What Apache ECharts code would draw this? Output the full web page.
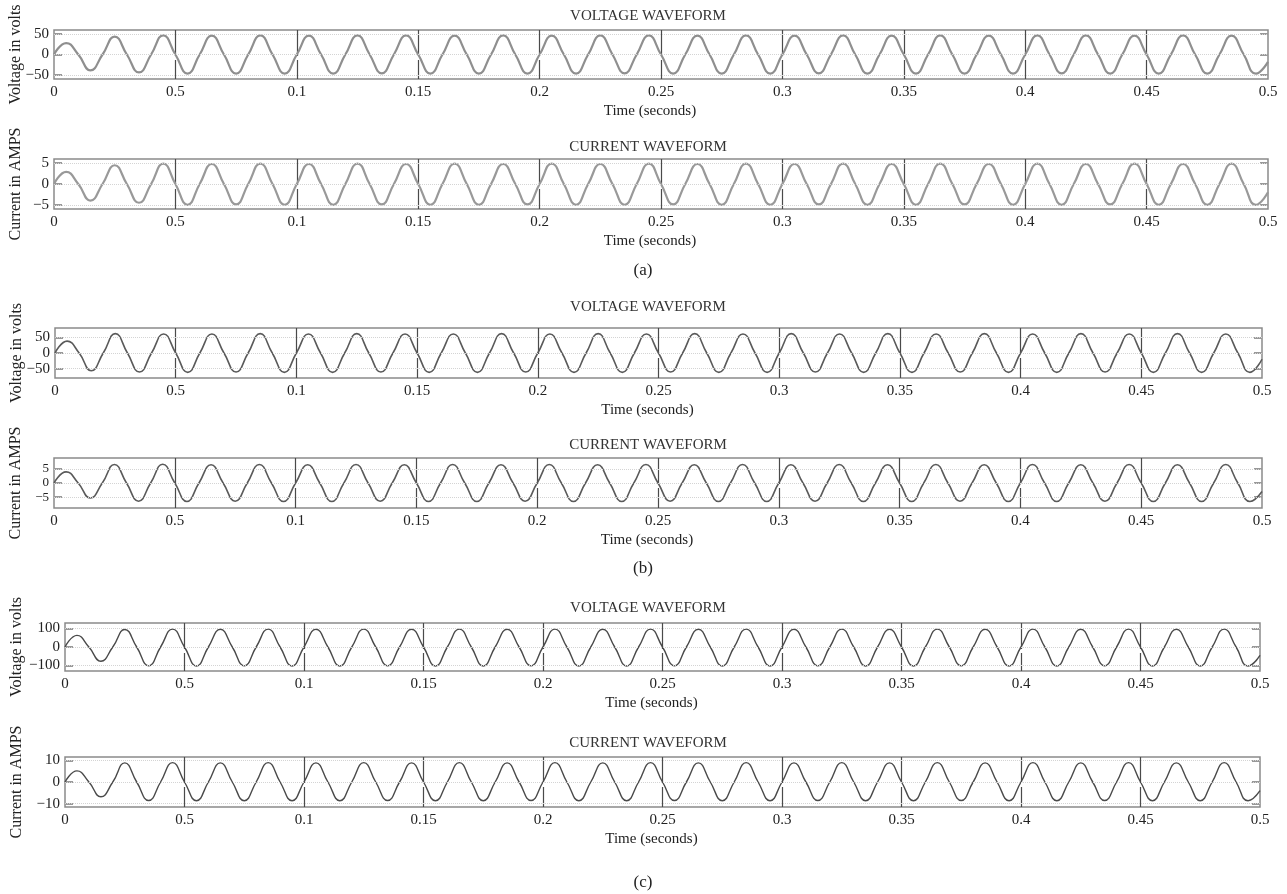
<!DOCTYPE html>
<html>
<head>
<meta charset="utf-8">
<script src="https://cdn.jsdelivr.net/npm/echarts@6/dist/echarts.min.js"></script>
<style>
html,body{margin:0;padding:0;background:#fff;}
#main{width:1287px;height:894px;}
</style>
</head>
<body>
<div id="main"></div>
<script>
// ---- data ----
const xTickLabels = ['0','0.5','0.1','0.15','0.2','0.25','0.3','0.35','0.4','0.45','0.5'];
const halfPeriod = 0.01; // seconds, 50 Hz supply

// signed extreme value of each half-cycle (peak / trough), 50 half-cycles over 0..0.5 s
const voltageA = [28,-39,44,-44,47,-47,46,-47,47,-47,
                  46,-47,47,-46,47,-47,46,-47,47,-47,
                  46,-47,47,-46,47,-47,46,-47,47,-47,
                  46,-46,47,-47,46,-47,47,-47,46,-47,
                  47,-46,47,-47,46,-47,47,-47,46,-47];
const currentA = [2.9,-4.0,4.5,-4.5,4.9,-5.0,4.8,-4.9,4.9,-5.0,
                  4.8,-5.0,4.9,-4.9,4.8,-5.0,4.9,-5.0,4.8,-4.9,
                  4.9,-5.0,4.8,-5.0,4.9,-4.9,4.8,-5.0,4.9,-5.0,
                  4.8,-4.9,4.9,-5.0,4.8,-5.0,4.9,-4.9,4.8,-5.0,
                  4.9,-5.0,4.8,-4.9,4.9,-5.0,4.8,-5.0,4.9,-5.0];
const voltageB = [38,-57,62,-61,61,-62,61,-61,62,-62,
                  61,-62,62,-61,61,-62,61,-62,62,-61,
                  61,-62,62,-62,61,-61,62,-62,61,-62,
                  62,-61,61,-62,62,-62,61,-61,62,-62,
                  61,-62,62,-61,61,-62,62,-62,61,-62];
const currentB = [3.9,-5.3,6.5,-6.4,6.6,-6.5,6.4,-6.4,6.5,-6.5,
                  6.4,-6.5,6.5,-6.4,6.4,-6.5,6.5,-6.5,6.4,-6.4,
                  6.5,-6.5,6.4,-6.5,6.5,-6.4,6.4,-6.5,6.5,-6.5,
                  6.4,-6.4,6.5,-6.5,6.4,-6.5,6.5,-6.4,6.4,-6.5,
                  6.5,-6.5,6.4,-6.4,6.5,-6.5,6.4,-6.5,6.5,-6.5];
const voltageC = [63,-77,95,-102,97,-103,96,-102,97,-103,
                  96,-103,97,-102,96,-103,97,-103,96,-102,
                  97,-103,96,-103,97,-102,96,-103,97,-103,
                  96,-102,97,-103,96,-103,97,-102,96,-103,
                  97,-103,96,-102,97,-103,96,-103,97,-103];
const currentC = [5.1,-6.8,8.8,-8.5,8.9,-8.6,8.8,-8.6,8.9,-8.6,
                  8.8,-8.6,8.9,-8.5,8.8,-8.6,8.9,-8.6,8.8,-8.5,
                  8.9,-8.6,8.8,-8.6,8.9,-8.5,8.8,-8.6,8.9,-8.6,
                  8.8,-8.5,8.9,-8.6,8.8,-8.6,8.9,-8.5,8.8,-8.6,
                  8.9,-8.6,8.8,-8.5,8.9,-8.6,8.8,-8.6,8.9,-8.6];
// value at t = 0.5 s (trace is rising from the last trough)
const endValues = [-18, -2, -20, -3, -45, -4];

const yTicksVA = [-50, 0, 50];
const yTicksIA = [-5, 0, 5];
const yTicksVB = [-50, 0, 50];
const yTicksIB = [-5, 0, 5];
const yTicksVC = [-100, 0, 100];
const yTicksIC = [-10, 0, 10];

const yRanges = [60, 6, 80, 8.8, 130, 11.5];

// ---- layout ----
const panels = [
  {title:'VOLTAGE WAVEFORM', yname:'Voltage in volts', data:voltageA, ticks:yTicksVA, left:54, right:19, top:30, height:49, color:'#8f8f8f', lw:2.2, titleY:4, fs:15},
  {title:'CURRENT WAVEFORM', yname:'Current in AMPS',  data:currentA, ticks:yTicksIA, left:54, right:19, top:159, height:50, color:'#999999', lw:2.2, titleY:135, fs:15},
  {title:'VOLTAGE WAVEFORM', yname:'Voltage in volts', data:voltageB, ticks:yTicksVB, left:55, right:25, top:328, height:50, color:'#5a5a5a', lw:1.6, titleY:295, fs:15},
  {title:'CURRENT WAVEFORM', yname:'Current in AMPS',  data:currentB, ticks:yTicksIB, left:54, right:25, top:458, height:50, color:'#5a5a5a', lw:1.6, titleY:433, fs:13},
  {title:'VOLTAGE WAVEFORM', yname:'Voltage in volts', data:voltageC, ticks:yTicksVC, left:65, right:27, top:623, height:48, color:'#4a4a4a', lw:1.4, titleY:596, fs:15},
  {title:'CURRENT WAVEFORM', yname:'Current in AMPS',  data:currentC, ticks:yTicksIC, left:65, right:27, top:757, height:50, color:'#4a4a4a', lw:1.4, titleY:731, fs:15}
];
const captions = [{t:'(a)', y:257}, {t:'(b)', y:555}, {t:'(c)', y:869}];

const FONT = '"Liberation Serif", "DejaVu Serif", serif';
const fmtY = v => v < 0 ? '\u2212' + Math.abs(v) : String(v);

function buildWave(ext, endV){
  const pts = [];
  for (let k = 0; k < ext.length; k++){
    pts.push([halfPeriod * k, 0]);
    pts.push([halfPeriod * k + halfPeriod / 2, ext[k]]);
  }
  pts.push([halfPeriod * ext.length, endV]);
  return pts;
}

const grids = [], xAxes = [], yAxes = [], series = [], titles = [];
panels.forEach((p, i) => {
  grids.push({left:p.left, right:p.right, top:p.top, height:p.height, show:true,
              containLabel:false, outerBoundsMode:'none',
              borderColor:'#8a8a8a', borderWidth:1.5, backgroundColor:'transparent'});
  xAxes.push({type:'value', gridIndex:i, min:0, max:0.5, interval:0.05,
    axisLine:{show:false}, axisTick:{show:false},
    axisLabel:{color:'#222', fontFamily:FONT, fontSize:15, margin:6, hideOverlap:false,
      formatter: v => xTickLabels[Math.round(v / 0.05)]},
    splitLine:{show:true, showMinLine:false, showMaxLine:false,
      lineStyle:{color:'#4a4a4a', width:1.2, type:[26,4]}},
    name:'Time (seconds)', nameLocation:'middle', nameGap:25, nameMoveOverlap:false,
    nameTextStyle:{color:'#222', fontFamily:FONT, fontSize:15, padding:[0,22,0,0]}
  });
  const r = yRanges[i];
  yAxes.push({type:'value', gridIndex:i, min:-r, max:r, position:'left',
    axisLine:{show:false},
    axisTick:{show:true, inside:true, length:8, customValues:p.ticks, lineStyle:{color:'#999', width:2}},
    axisLabel:{color:'#222', fontFamily:FONT, fontSize:p.fs, margin:5, hideOverlap:false, interval:0,
      customValues:p.ticks, formatter:fmtY},
    splitLine:{show:false},
    name:p.yname, nameLocation:'middle', nameGap:i >= 4 ? 40 : 30, nameRotate:90, nameMoveOverlap:false,
    nameTextStyle:{color:'#222', fontFamily:FONT, fontSize:16}
  });
  yAxes.push({type:'value', gridIndex:i, min:-r, max:r, position:'right',
    axisLine:{show:false}, axisLabel:{show:false}, splitLine:{show:false},
    axisTick:{show:true, inside:true, length:8, customValues:p.ticks, lineStyle:{color:'#999', width:2}}
  });
  series.push({type:'line', xAxisIndex:i, yAxisIndex:2*i, data:buildWave(p.data, endValues[i]),
    smooth:0.5, showSymbol:false, symbol:'none', silent:true, animation:false,
    lineStyle:{color:p.color, width:p.lw},
    markLine:{silent:true, symbol:'none', label:{show:false},
      lineStyle:{color:'#d4d4d4', width:1, type:'dotted'},
      data:p.ticks.map(v => ({yAxis:v}))}
  });
  titles.push({text:p.title, left:643, top:p.titleY, textAlign:'center',
    textStyle:{color:'#333', fontFamily:FONT, fontSize:15, fontWeight:'normal'}});
});
captions.forEach(c => titles.push({text:c.t, left:638, top:c.y, textAlign:'center',
  textStyle:{color:'#222', fontFamily:FONT, fontSize:17, fontWeight:'normal'}}));

const chart = echarts.init(document.getElementById('main'), null, {renderer:'canvas'});
chart.setOption({animation:false, backgroundColor:'#fff', title:titles, grid:grids,
  xAxis:xAxes, yAxis:yAxes, series:series});
</script>
</body>
</html>
